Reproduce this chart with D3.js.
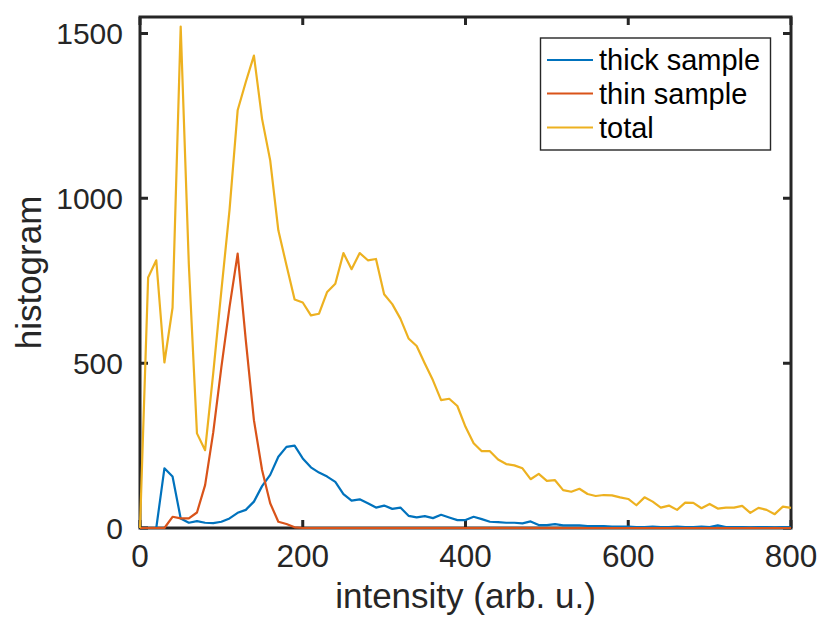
<!DOCTYPE html>
<html>
<head>
<meta charset="utf-8">
<script src="https://cdn.jsdelivr.net/npm/d3@7"></script>
<style>
  body { margin: 0; background: #fff; }
  svg text { font-family: "Liberation Sans", Arial, Helvetica, sans-serif; fill: #262626; }
</style>
</head>
<body>
<div id="chart"></div>
<script>
// intensity bins (arb. u.), one every 10
let bins = d3.range(0, 810, 10);

let thick = [
  0, 0, 0, 181, 156, 29, 16, 21, 16, 15,
  19, 29, 46, 55, 80, 127, 161, 216, 246, 250,
  211, 184, 168, 156, 140, 103, 83, 87, 75, 62,
  68, 58, 62, 37, 32, 36, 30, 40, 32, 24,
  24, 34, 27, 19, 18, 16, 16, 14, 20, 9,
  9, 12, 8, 8, 8, 6, 6, 6, 4, 4,
  4, 3, 3, 4, 3, 3, 4, 3, 3, 4,
  3, 8, 3, 3, 3, 2, 3, 3, 2, 3,
  2
];

let thin = [
  0, 0, 0, 0, 34, 29, 29, 47, 130, 290,
  488, 670, 832, 570, 327, 176, 75, 19, 12, 2,
  0, 0, 0, 0, 0, 0, 0, 0, 0, 0,
  0, 0, 0, 0, 0, 0, 0, 0, 0, 0,
  0, 0, 0, 0, 0, 0, 0, 0, 0, 0,
  0, 0, 0, 0, 0, 0, 0, 0, 0, 0,
  0, 0, 0, 0, 0, 0, 0, 0, 0, 0,
  0, 0, 0, 0, 0, 0, 0, 0, 0, 0,
  0
];

let total = [
  0, 760, 812, 502, 668, 1521, 800, 287, 236, 470,
  720, 964, 1267, 1353, 1433, 1241, 1115, 903, 797, 693,
  684, 645, 650, 716, 741, 834, 785, 834, 812, 816,
  709, 679, 635, 575, 552, 499, 448, 388, 392, 370,
  307, 257, 233, 233, 208, 194, 190, 181, 148, 164,
  143, 145, 115, 110, 119, 103, 97, 100, 99, 93,
  88, 69, 93, 80, 62, 68, 55, 77, 76, 60,
  73, 59, 62, 62, 67, 46, 61, 55, 42, 65,
  61
];

let seriesNames = ['thick sample', 'thin sample', 'total'];
let seriesColors = ['#0072BD', '#D95319', '#EDB120'];
let xTicks = [0, 200, 400, 600, 800];
let yTicks = [0, 500, 1000, 1500];

let width = 821, height = 621;
let plotLeft = 140, plotRight = 791, plotTop = 17, plotBottom = 528;
let axisColor = '#262626';

let svg = d3.select('#chart').append('svg')
  .attr('width', width)
  .attr('height', height);

let x = d3.scaleLinear().domain([0, 800]).range([plotLeft, plotRight]);
let y = d3.scaleLinear().domain([0, 1550]).range([plotBottom, plotTop]);

// ticks on all four sides, pointing inward
let tickLen = 8;
let axes = svg.append('g').attr('stroke', axisColor).attr('stroke-width', 3);

axes.selectAll('.xt').data(xTicks).enter().append('path')
  .attr('d', d => `M${x(d)},${plotBottom}v${-tickLen}M${x(d)},${plotTop}v${tickLen}`);
axes.selectAll('.yt').data(yTicks).enter().append('path')
  .attr('d', d => `M${plotLeft},${y(d)}h${tickLen}M${plotRight},${y(d)}h${-tickLen}`);

axes.append('rect')
  .attr('x', plotLeft).attr('y', plotTop)
  .attr('width', plotRight - plotLeft).attr('height', plotBottom - plotTop)
  .attr('fill', 'none');

// tick labels
svg.append('g').selectAll('text').data(xTicks).enter().append('text')
  .attr('x', d => x(d))
  .attr('y', plotBottom + 39)
  .attr('text-anchor', 'middle')
  .style('font-size', '31.5px')
  .text(d => d);

svg.append('g').selectAll('text').data(yTicks).enter().append('text')
  .attr('x', plotLeft - 17)
  .attr('y', d => y(d) + 11)
  .attr('text-anchor', 'end')
  .style('font-size', '30px')
  .text(d => d);

// axis labels
svg.append('text')
  .attr('x', (plotLeft + plotRight) / 2)
  .attr('y', 608)
  .attr('text-anchor', 'middle')
  .style('font-size', '35px')
  .text('intensity (arb. u.)');

svg.append('text')
  .attr('transform', `translate(41,${(plotTop + plotBottom) / 2}) rotate(-90)`)
  .attr('text-anchor', 'middle')
  .style('font-size', '35px')
  .text('histogram');

// the three curves
let line = d3.line()
  .x((d, i) => x(bins[i]))
  .y(d => y(d));

[thick, thin, total].forEach((values, k) => {
  svg.append('path')
    .datum(values)
    .attr('d', line)
    .attr('fill', 'none')
    .attr('stroke', seriesColors[k])
    .attr('stroke-width', 2.2)
    .attr('stroke-linejoin', 'round');
});

// legend
let legend = svg.append('g');
legend.append('rect')
  .attr('x', 540.5).attr('y', 38)
  .attr('width', 230).attr('height', 112)
  .attr('fill', '#fff')
  .attr('stroke', axisColor)
  .attr('stroke-width', 1.4);

let rowY = [60, 93.5, 127.5];
seriesNames.forEach((name, k) => {
  legend.append('line')
    .attr('x1', 547).attr('x2', 593)
    .attr('y1', rowY[k]).attr('y2', rowY[k])
    .attr('stroke', seriesColors[k])
    .attr('stroke-width', 2.2);
  legend.append('text')
    .attr('x', 599)
    .attr('y', rowY[k] + 10)
    .style('font-size', '29px')
    .style('fill', '#000')
    .text(name);
});
</script>
</body>
</html>
